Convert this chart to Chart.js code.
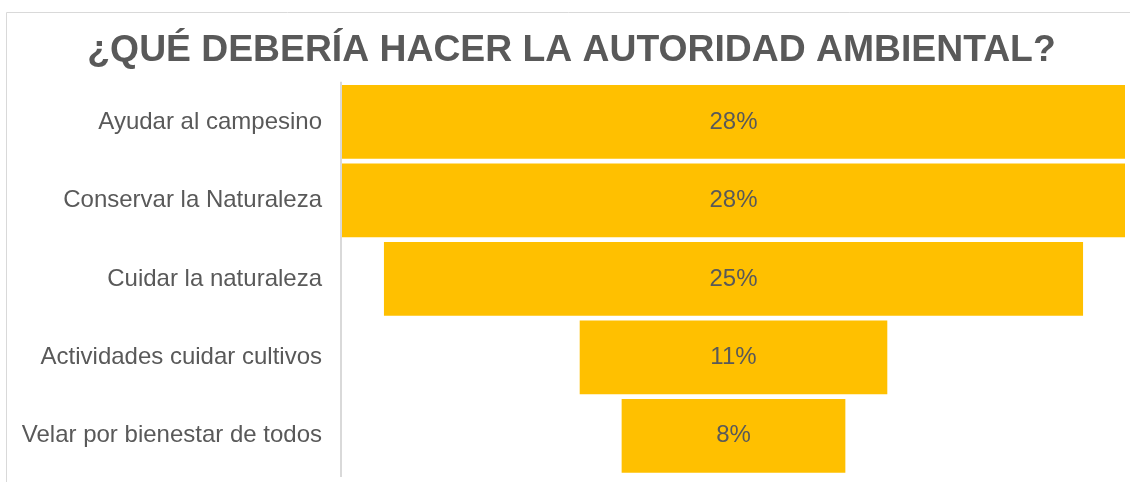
<!DOCTYPE html>
<html>
<head>
<meta charset="utf-8">
<script src="https://cdn.jsdelivr.net/npm/chart.js@4"></script>
<style>
html,body{margin:0;padding:0;background:#fff;}
#wrap{width:1130px;height:482px;position:relative;}
</style>
</head>
<body>
<div id="wrap"><canvas id="c" width="1130" height="482"></canvas></div>
<script>
const titleText = '¿QUÉ DEBERÍA HACER LA AUTORIDAD AMBIENTAL?';
const categories = ['Ayudar al campesino','Conservar la Naturaleza','Cuidar la naturaleza','Actividades cuidar cultivos','Velar por bienestar de todos'];
const values = [28, 28, 25, 11, 8];
const valueLabels = ['28%','28%','25%','11%','8%'];

const frame = {
  id:'frame',
  beforeDraw(chart){
    const ctx = chart.ctx;
    ctx.save();
    ctx.strokeStyle = '#d9d9d9';
    ctx.lineWidth = 1;
    ctx.beginPath();
    ctx.moveTo(6.5, 490);
    ctx.lineTo(6.5, 12.5);
    ctx.lineTo(1135, 12.5);
    ctx.stroke();
    ctx.restore();
  }
};
const axisLine = {
  id:'axisLine',
  afterDatasetsDraw(chart){
    const ctx = chart.ctx, a = chart.chartArea;
    ctx.save();
    ctx.strokeStyle = '#d9d9d9';
    ctx.lineWidth = 2;
    ctx.beginPath();
    ctx.moveTo(a.left - 1, a.top - 1);
    ctx.lineTo(a.left - 1, a.bottom + 2);
    ctx.stroke();
    ctx.restore();
  }
};
const valueLbl = {
  id:'valueLbl',
  afterDatasetsDraw(chart){
    const ctx = chart.ctx;
    const meta = chart.getDatasetMeta(0);
    ctx.save();
    ctx.font = '24px "Liberation Sans", Arial, sans-serif';
    ctx.fillStyle = '#595959';
    ctx.textAlign = 'center';
    ctx.textBaseline = 'middle';
    meta.data.forEach((bar, i) => {
      const xs = chart.scales.x;
      ctx.fillText(valueLabels[i], xs.getPixelForValue(0), bar.y);
    });
    ctx.restore();
  }
};

new Chart(document.getElementById('c'), {
  type:'bar',
  data:{
    labels: categories,
    datasets:[{
      data: values.map(v => [-v/2, v/2]),
      backgroundColor:'#FFC000',
      borderWidth:0,
      categoryPercentage:0.94,
      barPercentage:1.0
    }]
  },
  options:{
    indexAxis:'y',
    responsive:false,
    animation:false,
    layout:{padding:{left:18,right:5,top:0,bottom:7}},
    plugins:{
      legend:{display:false},
      tooltip:{enabled:false},
      title:{
        display:true,
        text:titleText,
        color:'#595959',
        font:{family:'"Liberation Sans", Arial, sans-serif', size:37.3, weight:'bold'},
        padding:{top:28,bottom:10}
      }
    },
    scales:{
      x:{
        min:-14, max:14,
        display:false
      },
      y:{
        grid:{display:false, drawTicks:false},
        border:{display:false},
        ticks:{
          color:'#595959',
          font:{family:'"Liberation Sans", Arial, sans-serif', size:24},
          padding:20
        },
        afterFit(s){ s.width = 324; s.paddingTop = 0; s.paddingBottom = 0; }
      }
    }
  },
  plugins:[frame, axisLine, valueLbl]
});
</script>
</body>
</html>
